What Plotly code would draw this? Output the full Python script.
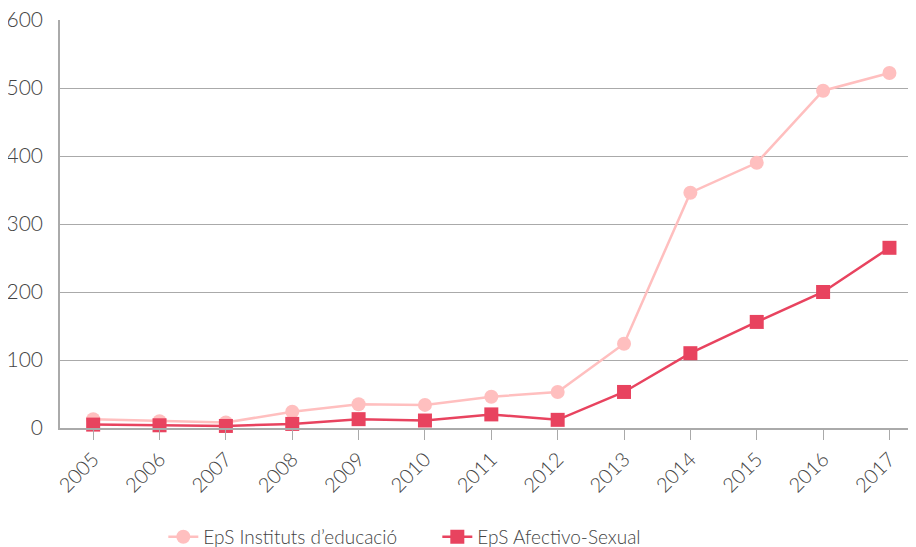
import plotly.graph_objects as go

years = ["2005", "2006", "2007", "2008", "2009", "2010", "2011", "2012", "2013", "2014", "2015", "2016", "2017"]
instituts = [13, 10, 8, 24, 35, 34, 46, 53, 124, 346, 390, 496, 522]
afectivo = [5, 4, 3, 6, 13, 11, 20, 12, 53, 110, 156, 200, 265]
y_ticks = [0, 100, 200, 300, 400, 500, 600]

FONT = "Lato Light, Lato, sans-serif"

fig = go.Figure()
fig.add_trace(go.Scatter(
    x=years, y=instituts, name="EpS Instituts d\u2019educació",
    mode="lines+markers",
    line=dict(color="#FFBFBF", width=2.5),
    marker=dict(symbol="circle", size=14, color="#FFBFBF"),
    cliponaxis=False,
))
fig.add_trace(go.Scatter(
    x=years, y=afectivo, name="EpS Afectivo-Sexual",
    mode="lines+markers",
    line=dict(color="#E8435F", width=2.5),
    marker=dict(symbol="square", size=14, color="#E8435F"),
    cliponaxis=False,
))

fig.update_layout(
    width=908, height=539,
    margin=dict(l=52, r=0, t=12, b=119, autoexpand=False),
    paper_bgcolor="white", plot_bgcolor="white",
    font=dict(family=FONT, size=20, color="#444444", weight=300),
    showlegend=True,
    legend=dict(orientation="h", x=0.1207, xanchor="left", y=-0.267, yanchor="middle",
                font=dict(family=FONT, size=19, color="#444444", weight=300),
                traceorder="normal", entrywidth=229, entrywidthmode="pixels"),
    xaxis=dict(
        type="category", range=[-0.5, 12.4], tickangle=-45,
        showline=True, linecolor="#aaaaaa", linewidth=1.5,
        ticks="outside", ticklen=10, tickcolor="#aaaaaa",
        showgrid=False, zeroline=False, automargin=False,
        ticklabeloverflow="allow",
        tickfont=dict(family=FONT, size=20, color="#444444", weight=300),
    ),
    yaxis=dict(
        range=[0, 600], tickvals=y_ticks,
        showline=True, linecolor="#aaaaaa", linewidth=1.5,
        showgrid=True, gridcolor="#aaaaaa", gridwidth=1.2,
        zeroline=False, ticks="", ticklen=0, ticklabelstandoff=11, automargin=False,
        ticklabeloverflow="allow",
        tickfont=dict(family=FONT, size=21, color="#444444", weight=300),
    ),
)

fig.write_html("out.html")
